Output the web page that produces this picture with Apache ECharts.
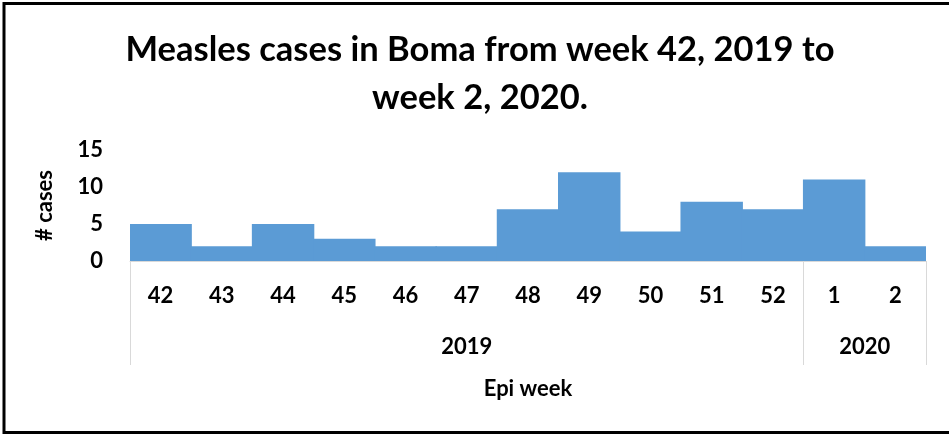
<!DOCTYPE html>
<html>
<head>
<meta charset="utf-8">
<script src="https://cdn.jsdelivr.net/npm/echarts@6/dist/echarts.min.js"></script>
<style>
html,body{margin:0;padding:0;background:#fff;}
#chart{width:949px;height:435px;}
</style>
</head>
<body>
<div id="chart"></div>
<script>
const titleLines = ['Measles cases in Boma from week 42, 2019 to', 'week 2, 2020.'];
const weeks = ['42','43','44','45','46','47','48','49','50','51','52','1','2'];
const cases = [5,2,5,3,2,2,7,12,4,8,7,11,2];
const years = ['2019','2020'];
const weeksPerYear = [11,2];
const yTicks = [0,5,10,15];

const boundaries = [0];
const centers = [];
let acc = 0;
weeksPerYear.forEach(n => { centers.push(acc + n / 2); acc += n; boundaries.push(acc); });

const FONT = 'Lato';
const W = 'bold';
const chart = echarts.init(document.getElementById('chart'));
chart.setOption({
  backgroundColor: '#fff',
  animation: false,
  title: {
    text: titleLines.join('\n'),
    left: 475,
    top: 21,
    textAlign: 'center',
    textStyle: { fontFamily: FONT, fontWeight: W, fontSize: 34.5, color: '#000', lineHeight: 48 }
  },
  grid: { left: 130, right: 23, top: 150, bottom: 174 },
  xAxis: [
    {
      type: 'category',
      data: weeks,
      position: 'bottom',
      axisLine: { show: true, lineStyle: { color: '#D9D9D9', width: 1 } },
      axisTick: { show: false },
      axisLabel: { fontFamily: FONT, fontWeight: W, fontSize: 22, color: '#000', margin: 24, interval: 0 },
      splitLine: { show: false }
    },
    {
      type: 'value',
      min: 0,
      max: acc,
      position: 'bottom',
      name: 'Epi week',
      nameLocation: 'middle',
      nameGap: 117,
      nameTextStyle: { fontFamily: FONT, fontWeight: W, fontSize: 22, color: '#000' },
      axisLine: { show: false },
      axisTick: { show: true, customValues: boundaries, length: 104, lineStyle: { color: '#D9D9D9', width: 1 } },
      axisLabel: {
        customValues: centers,
        formatter: v => { const i = centers.indexOf(v); return i >= 0 ? years[i] : ''; },
        fontFamily: FONT, fontWeight: W, fontSize: 22, color: '#000', margin: 75
      },
      splitLine: { show: false }
    }
  ],
  yAxis: {
    type: 'value',
    min: yTicks[0],
    max: yTicks[yTicks.length - 1],
    interval: yTicks[1] - yTicks[0],
    name: '# cases',
    nameLocation: 'middle',
    nameGap: 74,
    nameTextStyle: { fontFamily: FONT, fontWeight: W, fontSize: 22, color: '#000' },
    axisLine: { show: false },
    axisTick: { show: false },
    splitLine: { show: false },
    axisLabel: { fontFamily: FONT, fontWeight: W, fontSize: 22, color: '#000', margin: 27 }
  },
  series: [{
    type: 'bar',
    data: cases,
    xAxisIndex: 0,
    barWidth: '102%',
    itemStyle: { color: '#5B9BD5' }
  }],
  graphic: [{
    type: 'rect',
    shape: { x: 4, y: 3.5, width: 960, height: 429 },
    style: { fill: 'none', stroke: '#000', lineWidth: 3 },
    silent: true
  }]
});
</script>
</body>
</html>
